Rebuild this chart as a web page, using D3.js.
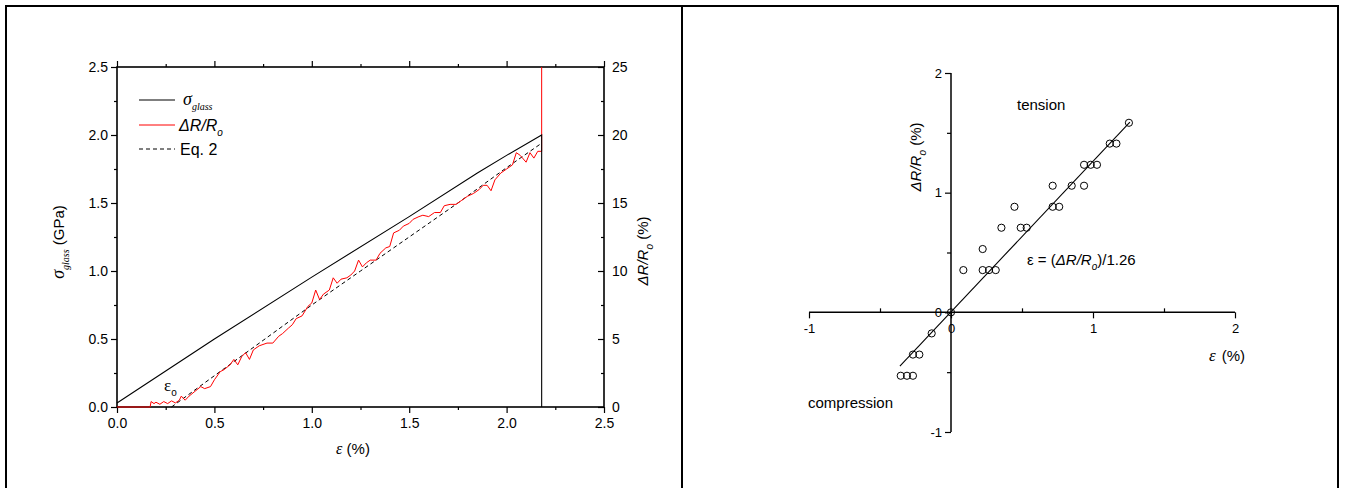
<!DOCTYPE html>
<html>
<head>
<meta charset="utf-8">
<title>Glass fibre strain sensor</title>
<script src="https://cdn.jsdelivr.net/npm/d3@7"></script>
<style>
  body { margin: 0; background: #fff; }
  svg text { font-family: "Liberation Sans", Arial, sans-serif; fill: #000; }
  .serif { font-family: "Liberation Serif", "Times New Roman", serif; }
  .axis path.domain { display: none; }
  .axis line { stroke: #000; stroke-width: 1.2px; }
</style>
</head>
<body>
<svg id="fig" width="1345" height="488"></svg>
<script>
// ---- left panel data ----
var strainGlass = [0, 0.5, 1.0, 1.5, 1.85, 2.0, 2.18, 2.18];
var sigmaGlass  = [0.03, 0.50, 0.955, 1.40, 1.72, 1.85, 2.0, 0];

var strainR = [0, 0.17, 0.175, 0.19, 0.2, 0.22, 0.24, 0.26, 0.28, 0.30, 0.32, 0.33, 0.35, 0.37, 0.40, 0.43, 0.45, 0.48,
  0.50, 0.53, 0.55, 0.58, 0.60, 0.62, 0.64, 0.66, 0.68, 0.70, 0.73, 0.77, 0.80, 0.83, 0.85, 0.88, 0.90, 0.92, 0.95,
  0.98, 1.00, 1.02, 1.04, 1.06, 1.09, 1.11, 1.13, 1.15, 1.18, 1.20, 1.22, 1.24, 1.26, 1.28, 1.30, 1.33, 1.35, 1.38,
  1.40, 1.42, 1.45, 1.47, 1.50, 1.52, 1.55, 1.57, 1.60, 1.63, 1.66, 1.68, 1.71, 1.74, 1.77, 1.80, 1.83, 1.86, 1.88,
  1.90, 1.92, 1.94, 1.97, 2.00, 2.03, 2.05, 2.07, 2.10, 2.12, 2.14, 2.16, 2.18, 2.18];
var dRR = [0, 0, 0.4, 0.25, 0.35, 0.2, 0.4, 0.25, 0.45, 0.3, 0.5, 0.8, 0.5, 0.8, 1.15, 1.5, 1.35, 1.5,
  2.0, 2.6, 2.75, 3.1, 3.5, 3.1, 3.7, 4.0, 3.5, 4.2, 4.5, 4.7, 4.7, 5.2, 5.4, 5.8, 6.05, 6.5, 6.7,
  7.4, 7.65, 8.6, 7.9, 8.3, 8.6, 9.5, 9.1, 9.4, 9.5, 9.7, 10.0, 10.8, 10.3, 10.6, 10.8, 10.8, 11.3, 11.7,
  11.8, 12.8, 13.0, 13.3, 13.5, 13.8, 14.0, 14.1, 14.0, 14.3, 14.3, 14.8, 14.9, 14.9, 15.2, 15.5, 15.7, 16.0, 16.3,
  16.3, 15.9, 16.7, 17.2, 17.5, 17.8, 18.7, 18.5, 18.0, 18.7, 18.3, 18.8, 18.8, 25];

var strainEq = [0.28, 0.5, 0.75, 1.0, 1.25, 1.5, 1.75, 2.0, 2.18];
var eq2      = [0, 2.3, 4.9, 7.5, 10.0, 12.5, 15.0, 17.6, 19.4];

var xTicksL = [0, 0.5, 1.0, 1.5, 2.0, 2.5];
var yTicksL = [0, 0.5, 1.0, 1.5, 2.0, 2.5];
var yTicksR = [0, 5, 10, 15, 20, 25];

// ---- right panel data ----
var epsPts = [1.253, 1.118, 1.165, 0.937, 0.984, 1.028, 0.716, 0.850, 0.937, 0.447, 0.716, 0.762,
  0.355, 0.491, 0.533, 0.223, 0.087, 0.223, 0.268, 0.315, 0, -0.136, -0.268, -0.223, -0.354, -0.310, -0.268];
var dRPts = [1.584, 1.41, 1.41, 1.233, 1.233, 1.233, 1.058, 1.058, 1.058, 0.882, 0.882, 0.882,
  0.707, 0.707, 0.707, 0.529, 0.353, 0.353, 0.353, 0.353, 0, -0.176, -0.353, -0.353, -0.53, -0.53, -0.53];
var fitEps = [-0.36, 1.26];
var fitDR  = [-0.45, 1.59];
var xTicks2 = [-1, 0, 1, 2];
var yTicks2 = [-1, 0, 1, 2];

var svg = d3.select("#fig");

// frame round the two panels
svg.append("path")
  .attr("d", "M6,488 L6,6 L1338,6 L1338,488 M682,6 L682,488")
  .attr("fill", "none").attr("stroke", "#000").attr("stroke-width", 2);

// ================= left panel =================
var x = d3.scaleLinear().domain([0, 2.5]).range([117, 604]);
var yL = d3.scaleLinear().domain([0, 2.5]).range([407, 67]);
var yR = d3.scaleLinear().domain([0, 25]).range([407, 67]);

function minors(arr) {
  var out = [];
  for (var i = 0; i < arr.length - 1; i++) out.push((arr[i] + arr[i + 1]) / 2);
  return out;
}
function plain(d) { return String(d); }   // hyphen minus like the original

var L = svg.append("g");

L.append("g").attr("class", "axis").attr("transform", "translate(0,407)")
  .call(d3.axisBottom(x).tickValues(xTicksL).tickFormat(d3.format(".1f")).tickSize(6).tickPadding(5))
  .selectAll("text").style("font-size", "14px");
L.append("g").attr("class", "axis").attr("transform", "translate(0,407)")
  .call(d3.axisBottom(x).tickValues(minors(xTicksL)).tickFormat("").tickSize(3));
L.append("g").attr("class", "axis").attr("transform", "translate(0,67)")
  .call(d3.axisTop(x).tickValues(xTicksL).tickFormat("").tickSize(6));
L.append("g").attr("class", "axis").attr("transform", "translate(0,67)")
  .call(d3.axisTop(x).tickValues(minors(xTicksL)).tickFormat("").tickSize(3));
L.append("g").attr("class", "axis").attr("transform", "translate(117,0)")
  .call(d3.axisLeft(yL).tickValues(yTicksL).tickFormat(d3.format(".1f")).tickSize(6).tickPadding(3))
  .selectAll("text").style("font-size", "14px");
L.append("g").attr("class", "axis").attr("transform", "translate(117,0)")
  .call(d3.axisLeft(yL).tickValues(minors(yTicksL)).tickFormat("").tickSize(3));
L.append("g").attr("class", "axis").attr("transform", "translate(604,0)")
  .call(d3.axisRight(yR).tickValues(yTicksR).tickFormat(plain).tickSize(-6).tickPadding(8))
  .selectAll("text").style("font-size", "14px");
L.append("g").attr("class", "axis").attr("transform", "translate(604,0)")
  .call(d3.axisRight(yR).tickValues(minors(yTicksR)).tickFormat("").tickSize(-3));

L.append("rect").attr("x", 117).attr("y", 67).attr("width", 487).attr("height", 340)
  .attr("fill", "none").attr("stroke", "#000").attr("stroke-width", 1.6);

var lineG = d3.line().x(function(d) { return x(d[0]); }).y(function(d) { return yL(d[1]); });
var lineR = d3.line().x(function(d) { return x(d[0]); }).y(function(d) { return yR(d[1]); });

L.append("path").datum(d3.zip(strainEq, eq2)).attr("d", lineR)
  .attr("fill", "none").attr("stroke", "#000").attr("stroke-width", 1).attr("stroke-dasharray", "4,3");
L.append("path").datum(d3.zip(strainR, dRR)).attr("d", lineR)
  .attr("fill", "none").attr("stroke", "#ff0000").attr("stroke-width", 1);
L.append("path").datum(d3.zip(strainGlass, sigmaGlass)).attr("d", lineG)
  .attr("fill", "none").attr("stroke", "#000").attr("stroke-width", 1.1);

// legend
L.append("line").attr("x1", 139).attr("x2", 175).attr("y1", 100).attr("y2", 100).attr("stroke", "#000").attr("stroke-width", 1.1);
L.append("line").attr("x1", 139).attr("x2", 175).attr("y1", 125).attr("y2", 125).attr("stroke", "#ff0000").attr("stroke-width", 1);
L.append("line").attr("x1", 139).attr("x2", 175).attr("y1", 149).attr("y2", 149).attr("stroke", "#000").attr("stroke-width", 1).attr("stroke-dasharray", "4,3");

var t1 = L.append("text").attr("x", 183).attr("y", 105);
t1.append("tspan").attr("class", "serif").style("font-style", "italic").style("font-size", "18px").text("σ");
t1.append("tspan").attr("class", "serif").style("font-style", "italic").style("font-size", "10px").attr("dy", 5).text("glass");

var t2 = L.append("text").attr("x", 179).attr("y", 131).style("font-size", "16px");
t2.append("tspan").style("font-style", "italic").text("ΔR/R");
t2.append("tspan").style("font-style", "italic").style("font-size", "10px").attr("dy", 5).text("o");

L.append("text").attr("x", 180).attr("y", 155).style("font-size", "16px").text("Eq. 2");

// eps_o mark
var t3 = L.append("text").attr("x", 164).attr("y", 391);
t3.append("tspan").attr("class", "serif").style("font-size", "17px").text("ε");
t3.append("tspan").style("font-size", "10px").attr("dy", 5).text("o");

// axis titles
var xt = L.append("text").attr("x", 353).attr("y", 454).attr("text-anchor", "middle");
xt.append("tspan").attr("class", "serif").style("font-style", "italic").style("font-size", "16px").text("ε");
xt.append("tspan").style("font-size", "15px").text(" (%)");

var yt = L.append("text").attr("transform", "translate(64,242) rotate(-90)").attr("text-anchor", "middle");
yt.append("tspan").attr("class", "serif").style("font-style", "italic").style("font-size", "18px").text("σ");
yt.append("tspan").attr("class", "serif").style("font-style", "italic").style("font-size", "10px").attr("dy", 5).text("glass");
yt.append("tspan").style("font-size", "15px").attr("dy", -5).text(" (GPa)");

var yt2 = L.append("text").attr("transform", "translate(648,251) rotate(-90)").attr("text-anchor", "middle").style("font-size", "15px");
yt2.append("tspan").style("font-style", "italic").text("ΔR/R");
yt2.append("tspan").style("font-style", "italic").style("font-size", "10px").attr("dy", 5).text("o");
yt2.append("tspan").attr("dy", -5).text(" (%)");

// ================= right panel =================
var x2 = d3.scaleLinear().domain([-1, 2]).range([809, 1235]);
var y2 = d3.scaleLinear().domain([-1, 2]).range([432, 73]);
var R = svg.append("g");

R.append("line").attr("x1", x2(-1)).attr("x2", x2(2)).attr("y1", y2(0)).attr("y2", y2(0)).attr("stroke", "#000").attr("stroke-width", 1.5);
R.append("line").attr("x1", x2(0)).attr("x2", x2(0)).attr("y1", y2(2)).attr("y2", y2(-1)).attr("stroke", "#000").attr("stroke-width", 1.5);

R.append("g").attr("class", "axis").attr("transform", "translate(0," + y2(0) + ")")
  .call(d3.axisBottom(x2).tickValues(xTicks2).tickFormat(plain).tickSize(6).tickPadding(5))
  .selectAll("text").style("font-size", "13px");
R.append("g").attr("class", "axis").attr("transform", "translate(0," + y2(0) + ")")
  .call(d3.axisTop(x2).tickValues(minors(xTicks2)).tickFormat("").tickSize(4));
R.append("g").attr("class", "axis").attr("transform", "translate(" + x2(0) + ",0)")
  .call(d3.axisLeft(y2).tickValues(yTicks2).tickFormat(plain).tickSize(6).tickPadding(3))
  .selectAll("text").style("font-size", "13px");
R.append("g").attr("class", "axis").attr("transform", "translate(" + x2(0) + ",0)")
  .call(d3.axisLeft(y2).tickValues(minors(yTicks2)).tickFormat("").tickSize(4));

R.append("path").datum(d3.zip(fitEps, fitDR))
  .attr("d", d3.line().x(function(d) { return x2(d[0]); }).y(function(d) { return y2(d[1]); }))
  .attr("fill", "none").attr("stroke", "#000").attr("stroke-width", 1.1);

R.selectAll("circle.pt").data(d3.zip(epsPts, dRPts)).enter().append("circle")
  .attr("class", "pt")
  .attr("cx", function(d) { return x2(d[0]); })
  .attr("cy", function(d) { return y2(d[1]); })
  .attr("r", 3.6).attr("fill", "none").attr("stroke", "#000").attr("stroke-width", 1);

R.append("text").attr("x", 1017).attr("y", 110).style("font-size", "15px").text("tension");
R.append("text").attr("x", 808).attr("y", 408).style("font-size", "15px").text("compression");

var f = R.append("text").attr("x", 1027).attr("y", 265).style("font-size", "15px");
f.append("tspan").text("ε = (");
f.append("tspan").style("font-style", "italic").text("ΔR/R");
f.append("tspan").style("font-style", "italic").style("font-size", "10px").attr("dy", 5).text("o");
f.append("tspan").attr("dy", -5).text(")/1.26");

var xl = R.append("text").attr("x", 1209).attr("y", 361);
xl.append("tspan").attr("class", "serif").style("font-style", "italic").style("font-size", "17px").text("ε");
xl.append("tspan").style("font-size", "15px").attr("dx", 6).text("(%)");

var yl = R.append("text").attr("transform", "translate(921,157) rotate(-90)").attr("text-anchor", "middle").style("font-size", "15px");
yl.append("tspan").style("font-style", "italic").text("ΔR/R");
yl.append("tspan").style("font-style", "italic").style("font-size", "10px").attr("dy", 5).text("o");
yl.append("tspan").attr("dy", -5).text("  (%)");
</script>
</body>
</html>
